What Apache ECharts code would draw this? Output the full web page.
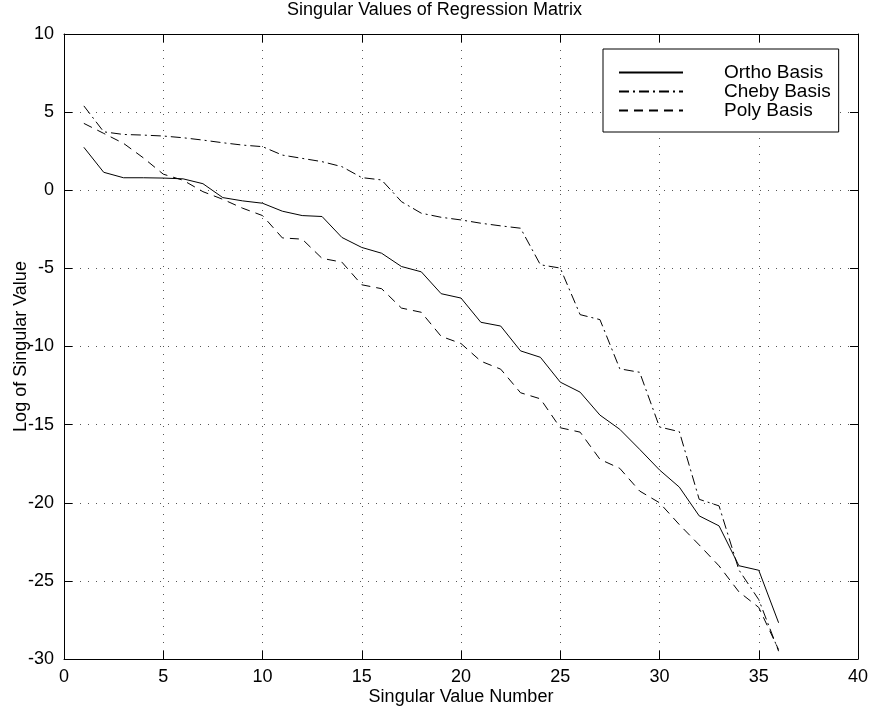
<!DOCTYPE html>
<html>
<head>
<meta charset="utf-8">
<script src="https://cdn.jsdelivr.net/npm/echarts@6/dist/echarts.min.js"></script>
<style>
  html, body { margin: 0; padding: 0; background: #fff; }
  #container { width: 869px; height: 707px; }
</style>
</head>
<body>
<div id="container"></div>
<script>
var svNumber = [1, 2, 3, 4, 5, 6, 7, 8, 9, 10, 11, 12, 13, 14, 15, 16, 17, 18,
  19, 20, 21, 22, 23, 24, 25, 26, 27, 28, 29, 30, 31, 32, 33, 34, 35, 36];
var orthoBasis = [2.75, 1.15, 0.8, 0.8, 0.78, 0.73, 0.42, -0.47, -0.68, -0.83, -1.34, -1.62,
  -1.68, -3.02, -3.66, -4.03, -4.88, -5.22, -6.62, -6.9, -8.45, -8.69, -10.28, -10.69,
  -12.28, -12.92, -14.39, -15.3, -16.58, -17.9, -19.0, -20.84, -21.48, -24.03, -24.32, -27.68];
var chebyBasis = [5.4, 3.74, 3.57, 3.53, 3.47, 3.36, 3.21, 3.04, 2.89, 2.79, 2.25, 2.04,
  1.83, 1.51, 0.81, 0.66, -0.73, -1.47, -1.73, -1.9, -2.11, -2.28, -2.43, -4.77,
  -4.98, -7.96, -8.28, -11.43, -11.65, -15.15, -15.45, -19.78, -20.2, -24.3, -26.2, -29.5];
var polyBasis = [4.28, 3.64, 3.0, 2.07, 1.03, 0.64, -0.09, -0.58, -1.15, -1.62, -3.05, -3.13,
  -4.36, -4.6, -6.05, -6.3, -7.54, -7.81, -9.35, -9.81, -10.94, -11.45, -12.96, -13.35,
  -15.2, -15.48, -17.22, -17.8, -19.25, -20.0, -21.4, -22.7, -24.04, -25.7, -26.7, -29.4];

var font = 'Liberation Sans';

function pairs(ys) {
  return svNumber.map(function (x, i) { return [x, ys[i]]; });
}

function makeSeries(name, ys, dash) {
  return {
    name: name,
    type: 'line',
    data: pairs(ys),
    symbol: 'none',
    animation: false,
    lineStyle: { color: '#000', width: 1, type: dash },
    itemStyle: { color: '#000' }
  };
}

var gridDots = { show: true, lineStyle: { color: '#555', width: 1, type: [1, 7] } };
var tickIn = { show: true, inside: true, length: 8, lineStyle: { color: '#000' } };
var axisBlack = { show: true, onZero: false, lineStyle: { color: '#000', width: 1 } };

var myChart = echarts.init(document.getElementById('container'));
var option = {
  backgroundColor: '#fff',
  animation: false,
  title: {
    text: 'Singular Values of Regression Matrix',
    left: 'center',
    top: 1,
    padding: 0,
    textStyle: { fontFamily: font, fontSize: 18, fontWeight: 'normal', color: '#000' }
  },
  grid: { left: 64, right: 11, top: 34, bottom: 48, containLabel: false, outerBoundsMode: 'none' },
  legend: {
    orient: 'vertical',
    left: 603,
    top: 49,
    padding: [14, 8, 12, 15],
    itemWidth: 64,
    itemHeight: 14,
    itemGap: 0,
    backgroundColor: '#fff',
    borderColor: '#000',
    borderWidth: 1,
    borderRadius: 0,
    itemStyle: { opacity: 0 },
    textStyle: { fontFamily: font, fontSize: 19, lineHeight: 19, color: '#000', padding: [0, 0, 0, 36] },
    data: ['Ortho Basis', 'Cheby Basis', 'Poly Basis']
  },
  xAxis: [{
    type: 'value', min: 0, max: 40, interval: 5,
    name: 'Singular Value Number', nameLocation: 'middle', nameGap: 29, nameMoveOverlap: false,
    nameTextStyle: { fontFamily: font, fontSize: 18, color: '#000' },
    axisLine: axisBlack, axisTick: tickIn, splitLine: gridDots,
    axisLabel: { fontFamily: font, fontSize: 18, color: '#000', margin: 9 }
  }, {
    type: 'value', min: 0, max: 40, interval: 5, position: 'top',
    axisLine: axisBlack, axisTick: tickIn, splitLine: { show: false },
    axisLabel: { show: false }
  }],
  yAxis: [{
    type: 'value', min: -30, max: 10, interval: 5,
    name: 'Log of Singular Value', nameLocation: 'middle', nameGap: 34, nameMoveOverlap: false,
    nameTextStyle: { fontFamily: font, fontSize: 18, color: '#000' },
    axisLine: axisBlack, axisTick: tickIn, splitLine: gridDots,
    axisLabel: { fontFamily: font, fontSize: 18, color: '#000', margin: 10 }
  }, {
    type: 'value', min: -30, max: 10, interval: 5, position: 'right',
    axisLine: axisBlack, axisTick: tickIn, splitLine: { show: false },
    axisLabel: { show: false }
  }],
  series: [
    makeSeries('Ortho Basis', orthoBasis, 'solid'),
    makeSeries('Cheby Basis', chebyBasis, [10, 4, 2, 4]),
    makeSeries('Poly Basis', polyBasis, [9, 6])
  ]
};
option && myChart.setOption(option);
</script>
</body>
</html>
